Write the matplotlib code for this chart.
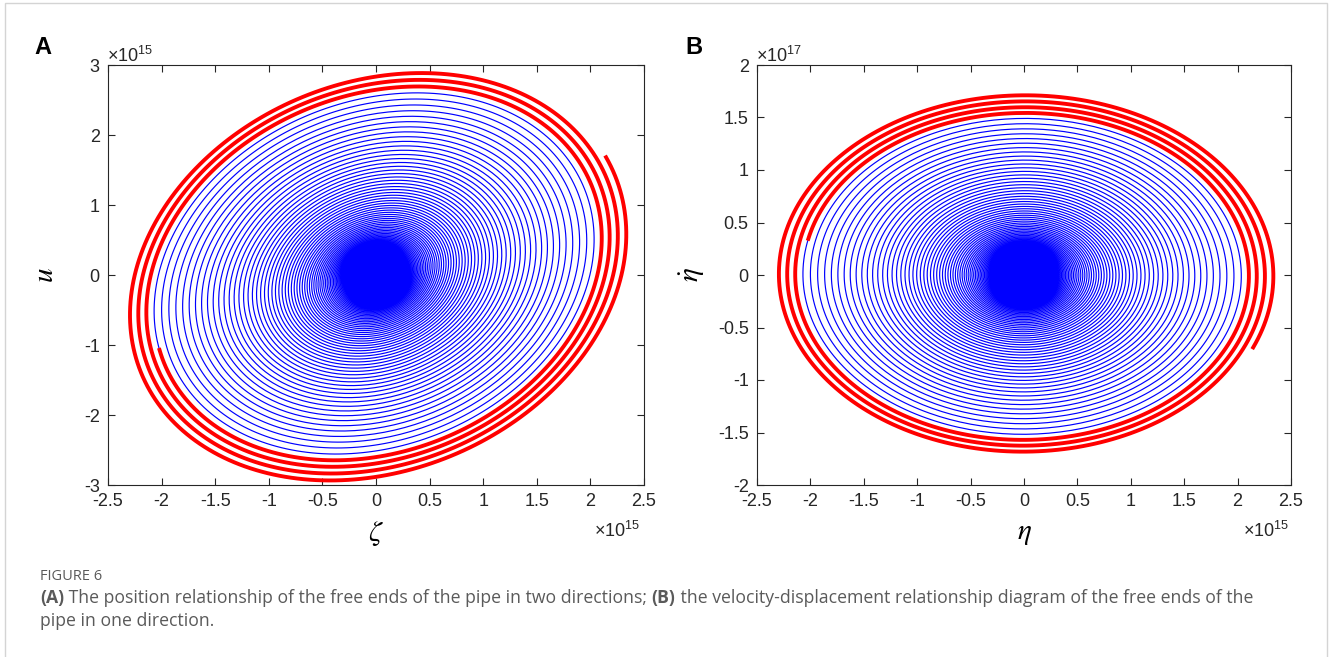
import numpy as np
import matplotlib
matplotlib.use("Agg")
import matplotlib.pyplot as plt
from matplotlib.ticker import FuncFormatter
from matplotlib.patches import Rectangle

# values (outermost ring size, ring spacing, where red ends)
zeta_amp = 2.34e15
u_amp = 2.97e15
tilt_deg = 11.0
eta_amp = 2.34e15
etadot_amp = 1.73e17
growth_per_turn = 1.035
n_turns = 170
red_turns = 3.53
end_angle_deg = 23.5

x_ticks = [-2.5, -2, -1.5, -1, -0.5, 0, 0.5, 1, 1.5, 2, 2.5]
yA_ticks = [-3, -2, -1, 0, 1, 2, 3]
yB_ticks = [-2, -1.5, -1, -0.5, 0, 0.5, 1, 1.5, 2]

caption_title = "FIGURE 6"
caption_parts = [("(A)", "bold"), (" The position relationship of the free ends of the pipe in two directions; ", "normal"),
                 ("(B)", "bold"), (" the velocity-displacement relationship diagram of the free ends of the", "normal")]
caption_line2 = "pipe in one direction."

plt.rcParams["font.family"] = ["Liberation Sans", "DejaVu Sans"]
plt.rcParams["mathtext.fontset"] = "stix"

# spiral trajectory
turns = np.linspace(-n_turns, 0, n_turns * 240 + 1)
theta = np.deg2rad(end_angle_deg) + 2 * np.pi * turns
R = growth_per_turn ** turns
zeta = zeta_amp * R * np.cos(theta)
u = u_amp * R * np.sin(theta + np.deg2rad(tilt_deg))
eta = eta_amp * R * np.cos(theta)
etadot = -etadot_amp * R * np.sin(theta)
red = turns >= -red_turns
blue = turns <= -red_turns + 0.002

W, H = 1330, 657
fig = plt.figure(figsize=(W / 100, H / 100), dpi=100)
fig.patch.set_facecolor("white")
fig.add_artist(Rectangle((5 / W, -0.01), 1322 / W, 1 - 3 / H + 0.01, transform=fig.transFigure,
                         fill=False, edgecolor="#d4d4d4", linewidth=1.0))

def style(ax, yticks, yexp):
    ax.set_xlim(-2.5e15, 2.5e15)
    ax.set_xticks([v * 1e15 for v in x_ticks])
    ax.set_yticks([v * yexp for v in yticks])
    ax.set_ylim(yticks[0] * yexp, yticks[-1] * yexp)
    ax.xaxis.set_major_formatter(FuncFormatter(lambda v, p: f"{v / 1e15:g}"))
    ax.yaxis.set_major_formatter(FuncFormatter(lambda v, p: f"{v / yexp:g}"))
    ax.tick_params(direction="in", top=True, right=True, length=5, width=0.8,
                   labelsize=13, colors="#262626", pad=6)
    for s in ax.spines.values():
        s.set_linewidth(0.8)
        s.set_color("#262626")

axA = fig.add_axes([108 / W, 1 - 485 / H, 536 / W, 420 / H])
axA.plot(zeta[blue], u[blue], color="#0000ff", linewidth=0.85)
axA.plot(zeta[red], u[red], color="#ff0000", linewidth=2.8)
style(axA, yA_ticks, 1e15)
axA.set_xlabel(r"$\zeta$", fontsize=21, labelpad=6)
axA.set_ylabel(r"$u$", fontsize=21, labelpad=18)

axB = fig.add_axes([757 / W, 1 - 485 / H, 534 / W, 420 / H])
axB.plot(eta[blue], etadot[blue], color="#0000ff", linewidth=0.85)
axB.plot(eta[red], etadot[red], color="#ff0000", linewidth=2.8)
style(axB, yB_ticks, 1e17)
axB.set_xlabel(r"$\eta$", fontsize=21, labelpad=6)
axB.set_ylabel(r"$\dot{\eta}$", fontsize=21, labelpad=8)

# MATLAB-style exponent labels
for xp, yp, s in [(107, 56, "15"), (594, 531, "15"), (756, 56, "17"), (1243, 531, "15")]:
    fig.text(xp / W, 1 - yp / H, r"$\mathregular{\times10^{" + s + "}}$", fontsize=13,
             color="#262626", va="center")

fig.text(34 / W, 1 - 47 / H, "A", fontsize=17, fontweight="bold", va="center", family="Liberation Sans")
fig.text(685 / W, 1 - 47 / H, "B", fontsize=17, fontweight="bold", va="center", family="Liberation Sans")

# caption
cap_color = "#5a5a5a"
fig.text(40 / W, 1 - 576 / H, caption_title, fontsize=10.5, color=cap_color, va="center", family="Open Sans")
renderer = fig.canvas.get_renderer()
x = 40 / W
for txt, wt in caption_parts:
    t = fig.text(x, 1 - 598 / H, txt, fontsize=12.7, color=cap_color, fontweight=wt,
                 va="center", family="Open Sans")
    bb = t.get_window_extent(renderer=renderer)
    x += bb.width / W
fig.text(40 / W, 1 - 621 / H, caption_line2, fontsize=12.7, color=cap_color, va="center", family="Open Sans")

fig.savefig("out.png", dpi=100, facecolor="white")
